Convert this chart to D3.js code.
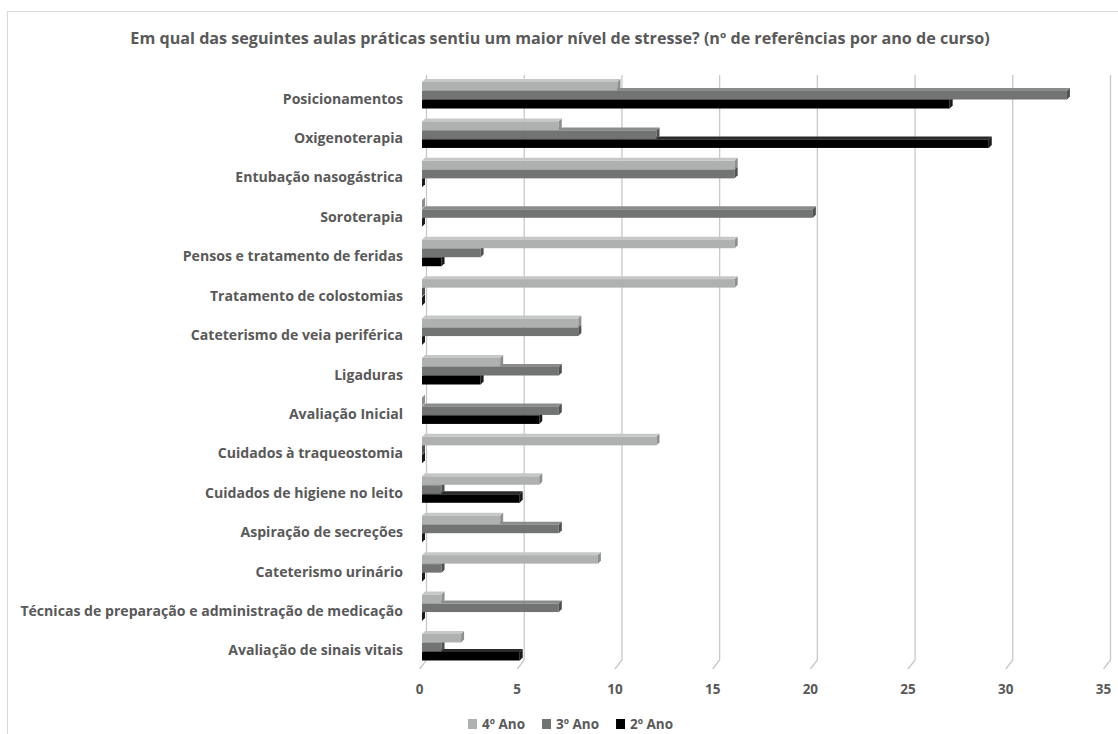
<!DOCTYPE html>
<html>
<head>
<meta charset="utf-8">
<script src="https://cdn.jsdelivr.net/npm/d3@7/dist/d3.min.js"></script>
<style>
  html, body { margin: 0; padding: 0; background: #fff; }
  svg { display: block; }
  text { font-family: "Open Sans", "Liberation Sans", sans-serif; font-weight: bold; fill: #595959; }
</style>
</head>
<body>
<svg id="chart" width="1118" height="734"></svg>
<script>
// Practical classes (top to bottom as listed on the axis)
const categories = [
  "Posicionamentos",
  "Oxigenoterapia",
  "Entubação nasogástrica",
  "Soroterapia",
  "Pensos e tratamento de feridas",
  "Tratamento de colostomias",
  "Cateterismo de veia periférica",
  "Ligaduras",
  "Avaliação Inicial",
  "Cuidados à traqueostomia",
  "Cuidados de higiene no leito",
  "Aspiração de secreções",
  "Cateterismo urinário",
  "Técnicas de preparação e administração de medicação",
  "Avaliação de sinais vitais"
];

const seriesNames = ["4º Ano", "3º Ano", "2º Ano"];

// Number of references per year, same order as categories
const ano4 = [10, 7, 16, 0, 16, 16, 8, 4, 0, 12, 6, 4, 9, 1, 2];
const ano3 = [33, 12, 16, 20, 3, 0, 8, 7, 7, 0, 1, 7, 1, 7, 1];
const ano2 = [27, 29, 0, 0, 1, 0, 0, 3, 6, 0, 5, 0, 0, 0, 5];

const tickValues = [0, 5, 10, 15, 20, 25, 30, 35];

const titleText = "Em qual das seguintes aulas práticas sentiu um maior nível de stresse? (nº de referências por ano de curso)";

// front / top / side shades for each series
const shades = {
  "4º Ano": { front: "#afb1b1", top: "#c6c8c8", side: "#8d8f8f" },
  "3º Ano": { front: "#727474", top: "#8a8c8c", side: "#4f5151" },
  "2º Ano": { front: "#000000", top: "#2b2b2b", side: "#1a1a1a" }
};

const svg = d3.select("#chart");

// outer chart frame
svg.append("rect")
  .attr("x", 7.5).attr("y", 11.5)
  .attr("width", 1120).attr("height", 740)
  .attr("fill", "#fff").attr("stroke", "#d9d9d9");

const x = d3.scaleLinear().domain([0, 35]).range([422, 1106]);
const y = d3.scaleBand().domain(categories).range([75.3, 666.7]).padding(0);
const inner = d3.scaleBand().domain(seriesNames).range([-13, 14]).padding(0);

const depth = { dx: 3, dy: 3 };
const wall = { dx: 4.5, floorDx: -7, floorDy: 9 };
const gridTop = 75, gridBottom = 660;

// gridlines on the back wall, folding onto the floor
const grid = svg.append("g");
tickValues.forEach(v => {
  const gx = x(v) + wall.dx;
  grid.append("path")
    .attr("d", `M${gx},${gridTop}L${gx},${gridBottom}L${gx + wall.floorDx},${gridBottom + wall.floorDy}`)
    .attr("fill", "none").attr("stroke", "#c8c8c8").attr("stroke-width", 1.3);
});

// tick labels
const axis = d3.axisBottom(x).tickValues(tickValues).tickSize(0).tickPadding(0);
const axisG = svg.append("g").attr("transform", "translate(-3,684)").call(axis);
axisG.select(".domain").remove();
axisG.selectAll("text")
  .attr("font-size", 13.5).attr("fill", "#595959")
  .attr("font-family", "\"Open Sans\", sans-serif").attr("font-weight", "bold");

// bars
const seriesValues = { "4º Ano": ano4, "3º Ano": ano3, "2º Ano": ano2 };
const drawOrder = ["2º Ano", "3º Ano", "4º Ano"];
const barsG = svg.append("g");
categories.forEach((cat, i) => {
  const cy = y(cat) + y.bandwidth() / 2;
  drawOrder.forEach(s => {
    const v = seriesValues[s][i];
    const x0 = x(0), x1 = x(v);
    const yt = cy + inner(s), yb = yt + inner.bandwidth() - 0.5;
    const c = shades[s];
    const g = barsG.append("g");
    if (v > 0) {
      g.append("path")
        .attr("d", `M${x0},${yt}L${x0 + depth.dx},${yt - depth.dy}L${x1 + depth.dx},${yt - depth.dy}L${x1},${yt}Z`)
        .attr("fill", c.top);
      g.append("rect")
        .attr("x", x0).attr("y", yt).attr("width", x1 - x0).attr("height", yb - yt)
        .attr("fill", c.front);
    }
    g.append("path")
      .attr("d", `M${x1},${yt}L${x1 + depth.dx},${yt - depth.dy}L${x1 + depth.dx},${yb - depth.dy}L${x1},${yb}Z`)
      .attr("fill", c.side);
  });
});

// category labels, sized so the longest fits the left margin
const labelG = svg.append("g");
const labels = labelG.selectAll("text").data(categories).join("text")
  .attr("x", 403)
  .attr("y", d => y(d) + y.bandwidth() / 2 + 3)
  .attr("text-anchor", "end")
  .attr("dominant-baseline", "central")
  .attr("font-size", 13)
  .text(d => d);
let maxW = 0;
labels.each(function () { maxW = Math.max(maxW, this.getComputedTextLength()); });
labels.attr("font-size", 13 * 383 / maxW);

// title
const title = svg.append("text")
  .attr("x", 560).attr("y", 38)
  .attr("text-anchor", "middle").attr("dominant-baseline", "central")
  .attr("font-size", 14)
  .text(titleText);
const tw = title.node().getComputedTextLength();
title.attr("font-size", 14 * 860 / tw);

// legend
const legend = svg.append("g");
const legendSize = 13.5;
let lx = 468;
seriesNames.forEach(s => {
  legend.append("rect")
    .attr("x", lx).attr("y", 719).attr("width", 9).attr("height", 10)
    .attr("fill", shades[s].front);
  const t = legend.append("text")
    .attr("x", lx + 14).attr("y", 723.5)
    .attr("dominant-baseline", "central")
    .attr("font-size", legendSize)
    .text(s);
  lx += 14 + t.node().getComputedTextLength() + 17;
});
</script>
</body>
</html>
